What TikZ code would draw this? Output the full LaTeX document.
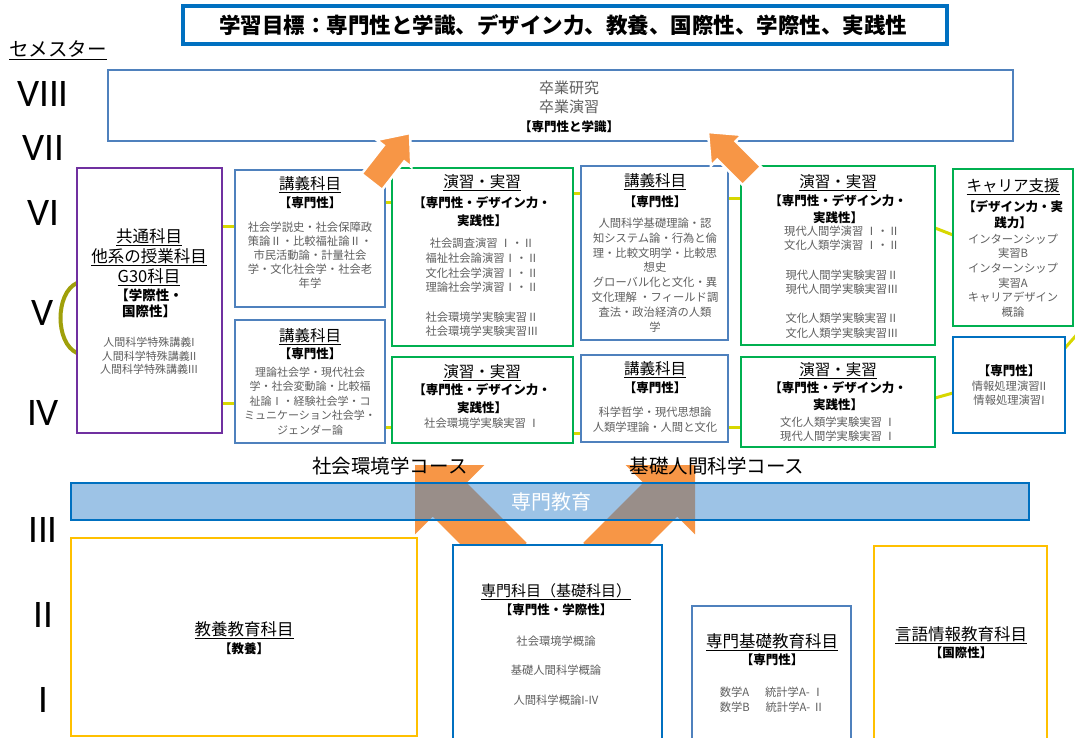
\documentclass[tikz,border=0pt]{standalone}
\usepackage{fontspec}
\setmainfont{Noto Sans CJK JP}
\newfontfamily\romfont{Carlito}
\usetikzlibrary{fit}
\definecolor{tblue}{RGB}{0,112,192}
\definecolor{sblue}{RGB}{79,129,189}
\definecolor{mgreen}{RGB}{0,176,80}
\definecolor{mpurple}{RGB}{112,48,160}
\definecolor{myellow}{RGB}{255,192,0}
\definecolor{morange}{RGB}{247,150,70}
\definecolor{bodygray}{RGB}{95,95,95}
\definecolor{linky}{RGB}{215,215,0}
\definecolor{olivec}{RGB}{160,160,10}
\definecolor{barfill}{RGB}{60,135,205}
\tikzset{
  frame/.style={draw=#1, line width=2.6pt, fill=white, inner sep=0pt},
  ttl/.style={font=\fontsize{15.5}{18}\selectfont, inner sep=0pt},
  bigttl/.style={font=\fontsize{16.5}{20}\selectfont, inner sep=0pt, align=center},
  brk/.style={font=\fontsize{12.5}{17.5}\selectfont\bfseries, inner sep=0pt, align=center},
  body/.style={font=\fontsize{11.3}{14.6}\selectfont, text=bodygray, inner sep=0pt, align=center},
  rom/.style={font=\romfont\fontsize{39}{40}\selectfont, inner sep=0pt},
  link/.style={draw=linky, line width=3pt},
  course/.style={font=\fontsize{19.5}{22}\selectfont, inner sep=0pt},
}
\newcommand\blockarrow[8]{%
  \begin{scope}[shift={(#1,#2)}, rotate=#3]
    \filldraw[#8] (0,0) -- (#5,#6) -- (#5,#7) -- (#4,#7) -- (#4,-#7) -- (#5,-#7) -- (#5,-#6) -- cycle;
  \end{scope}}
\begin{document}
\begin{tikzpicture}[x=1pt, y=-1pt]
\useasboundingbox (0,0) rectangle (1075,738);

% ---- goal title
\node[frame=tblue, line width=3.5pt, fit={(183,6) (947,44)}] (goal) {};
\node[font=\fontsize{21.5}{24}\selectfont\bfseries, inner sep=0pt] (goaltxt) at (563,25) {学習目標：専門性と学識、デザイン力、教養、国際性、学際性、実践性};

% ---- semester column
\node[font=\fontsize{19.5}{22}\selectfont, inner sep=0pt] (sem) at (58,50) {\underline{セメスター}};
\node[rom] (s8) at (43,94) {VIII};
\node[rom] (s7) at (43,148) {VII};
\node[rom] (s6) at (43,213) {VI};
\node[rom] (s5) at (43,313) {V};
\node[rom] (s4) at (43,413) {IV};
\node[rom] (s3) at (43,530) {III};
\node[rom] (s2) at (43,615) {II};
\node[rom] (s1) at (43,700) {I};

% ---- bottom arrows (behind the bar)
\blockarrow{415}{465}{315}{134}{49}{49}{24}{fill=morange, draw=none}
\blockarrow{695}{465}{225}{134}{49}{49}{24}{fill=morange, draw=none}

% ---- specialised education bar
\node[draw=tblue, line width=2.6pt, fill=barfill, fill opacity=0.5, inner sep=0pt, fit={(71,483) (1029,520)}] (bar) {};
\node[font=\fontsize{20}{24}\selectfont, text=white, inner sep=0pt] (bartxt) at (551,502) {専門教育};

% ---- bottom boxes
\node[frame=myellow, fit={(71,538) (417,736)}] (kyoyo) {};
\node[bigttl] (kyoyot) at (244,630) {\underline{教養教育科目}};
\node[brk] (kyoyob) at (244,649) {【教養】};

\node[frame=tblue, fit={(453,545) (662,752)}] (senmon) {};
\node[font=\fontsize{15}{18}\selectfont, inner sep=0pt] (senmont) at (556,592) {\underline{専門科目（基礎科目）}};
\node[brk] (senmonb) at (556,610) {【専門性・学際性】};
\node[body] (senmon1) at (556,641) {社会環境学概論};
\node[body] (senmon2) at (556,670) {基礎人間科学概論};
\node[body] (senmon3) at (556,700) {人間科学概論I-IV};

\node[frame=sblue, fit={(692,606) (851,752)}] (kiso) {};
\node[bigttl] (kisot) at (772,642) {\underline{専門基礎教育科目}};
\node[brk] (kisob) at (772,660) {【専門性】};
\node[body, align=left] (kisobody) at (772,699.5) {数学A\hspace{1.4em}統計学A- Ⅰ\\数学B\hspace{1.4em}統計学A- Ⅱ};

\node[frame=myellow, fit={(874,546) (1047,752)}] (gengo) {};
\node[bigttl] (gengot) at (961,635) {\underline{言語情報教育科目}};
\node[brk] (gengob) at (961,653) {【国際性】};

% ---- course labels
\node[course] (c1) at (390,466) {社会環境学コース};
\node[course] (c2) at (717,466) {基礎人間科学コース};

% ---- graduation box
\node[frame=sblue, fit={(108,70) (1013,141)}] (grad) {};

\path (77,168) coordinate (kyoA) (222,433) coordinate (kyoB);
\path (235,170) coordinate (lk1A) (385,307) coordinate (lk1B);
\path (235,320) coordinate (lk2A) (385,443) coordinate (lk2B);
\path (392,168) coordinate (g1A) (573,346) coordinate (g1B);
\path (392,357) coordinate (g2A) (573,443) coordinate (g2B);
\path (581,166) coordinate (lk3A) (728,340) coordinate (lk3B);
\path (581,355) coordinate (lk4A) (728,442) coordinate (lk4B);
\path (741,166) coordinate (g3A) (935,345) coordinate (g3B);
\path (741,357) coordinate (g4A) (935,447) coordinate (g4B);
\path (953,169) coordinate (carA) (1073,326) coordinate (carB);
\path (953,337) coordinate (senA) (1065,433) coordinate (senB);

% connectors (yellow ring)
\draw[link] (kyoB |- 0,226) -- (lk1A |- 0,226);
\draw[link] (lk1B |- 0,202) -- (g1A |- 0,202);
\draw[link] (g1B |- 0,193) -- (lk3A |- 0,193);
\draw[link] (lk3B |- 0,198) -- (g3A |- 0,198);
\draw[link] (g3B |- 0,228) -- (carA |- 0,235);
\draw[link] (kyoB |- 0,403) -- (lk2A |- 0,403);
\draw[link] (lk2B |- 0,427) -- (g2A |- 0,427);
\draw[link] (g2B |- 0,433) -- (lk4A |- 0,433);
\draw[link] (lk4B |- 0,427) -- (g4A |- 0,427);
\draw[link] (g4B |- 0,398) -- (senA |- 0,393);
\draw[link, draw=olivec, line width=4pt] (kyoA |- 0,283) .. controls (55,293) and (55,343) .. (kyoA |- 0,353);
\draw[link] (senB |- 0,348) -- (1080,331);

% boxes
\node[frame=mpurple, fit=(kyoA) (kyoB)] (kyo) {};
\node[frame=sblue, fit=(lk1A) (lk1B)] (lk1) {};
\node[frame=sblue, fit=(lk2A) (lk2B)] (lk2) {};
\node[frame=mgreen, fit=(g1A) (g1B)] (g1) {};
\node[frame=mgreen, fit=(g2A) (g2B)] (g2) {};
\node[frame=sblue, fit=(lk3A) (lk3B)] (lk3) {};
\node[frame=sblue, fit=(lk4A) (lk4B)] (lk4) {};
\node[frame=mgreen, fit=(g3A) (g3B)] (g3) {};
\node[frame=mgreen, fit=(g4A) (g4B)] (g4) {};
\node[frame=mgreen, fit=(carA) (carB)] (car) {};
\node[frame=tblue, fit=(senA) (senB)] (sen) {};

% graduation texts
\node[font=\fontsize{15}{19}\selectfont, text=bodygray, inner sep=0pt, align=center] (gradtxt) at (569,97.5) {卒業研究\\卒業演習};
\node[brk, font=\fontsize{12.5}{14}\selectfont\bfseries] (gradb) at (569,127) {【専門性と学識】};

% purple box texts
\node[bigttl] (kyot) at (149,257) {\underline{共通科目}\\\underline{他系の授業科目}\\\underline{G30科目}};
\node[brk, font=\fontsize{13.5}{16}\selectfont\bfseries] (kyob) at (149,303) {【学際性・\\国際性】};
\node[body, font=\fontsize{11}{13.5}\selectfont] (kyobody) at (149,356) {人間科学特殊講義I\\人間科学特殊講義II\\人間科学特殊講義III};

% lecture box 1
\node[ttl] (lk1t) at (310,185) {\underline{講義科目}};
\node[brk] (lk1b) at (310,203) {【専門性】};
\node[body, font=\fontsize{11.3}{14.1}\selectfont] (lk1body) at (310,255) {社会学説史・社会保障政\\策論Ⅱ・比較福祉論Ⅱ・\\市民活動論・計量社会\\学・文化社会学・社会老\\年学};

% lecture box 2
\node[ttl] (lk2t) at (310,337) {\underline{講義科目}};
\node[brk] (lk2b) at (310,354) {【専門性】};
\node[body, font=\fontsize{11}{14.5}\selectfont] (lk2body) at (310,401) {理論社会学・現代社会\\学・社会変動論・比較福\\祉論Ⅰ・経験社会学・コ\\ミュニケーション社会学・\\ジェンダー論};

% practice box 1
\node[ttl] (g1t) at (482,183) {\underline{演習・実習}};
\node[brk] (g1b) at (482,211.5) {【専門性・デザイン力・\\実践性】};
\node[body, font=\fontsize{11.3}{14.7}\selectfont] (g1body) at (482,287.5) {社会調査演習 Ⅰ・Ⅱ\\福祉社会論演習Ⅰ・Ⅱ\\文化社会学演習Ⅰ・Ⅱ\\理論社会学演習Ⅰ・Ⅱ\\[14.7pt]社会環境学実験実習Ⅱ\\社会環境学実験実習Ⅲ};

% practice box 2
\node[ttl] (g2t) at (482,373) {\underline{演習・実習}};
\node[brk] (g2b) at (482,398.5) {【専門性・デザイン力・\\実践性】};
\node[body] (g2body) at (482,423) {社会環境学実験実習 Ⅰ};

% lecture box 3
\node[ttl] (lk3t) at (655,182) {\underline{講義科目}};
\node[brk] (lk3b) at (655,202) {【専門性】};
\node[body, font=\fontsize{11.3}{14.85}\selectfont] (lk3body) at (655,275) {人間科学基礎理論・認\\知システム論・行為と倫\\理・比較文明学・比較思\\想史\\グローバル化と文化・異\\文化理解 ・フィールド調\\査法・政治経済の人類\\学};

% lecture box 4
\node[ttl] (lk4t) at (655,370) {\underline{講義科目}};
\node[brk] (lk4b) at (655,388) {【専門性】};
\node[body, font=\fontsize{11.3}{15}\selectfont] (lk4body) at (655,419.5) {科学哲学・現代思想論\\人類学理論・人間と文化};

% practice box 3
\node[ttl] (g3t) at (838,183) {\underline{演習・実習}};
\node[brk, font=\fontsize{12.5}{17}\selectfont\bfseries] (g3b) at (838,209.5) {【専門性・デザイン力・\\実践性】};
\node[body, font=\fontsize{11.3}{14.6}\selectfont] (g3body) at (842,282) {現代人間学演習 Ⅰ・Ⅱ\\文化人類学演習 Ⅰ・Ⅱ\\[14.6pt]現代人間学実験実習Ⅱ\\現代人間学実験実習Ⅲ\\[14.6pt]文化人類学実験実習Ⅱ\\文化人類学実験実習Ⅲ};

% practice box 4
\node[ttl] (g4t) at (838,371) {\underline{演習・実習}};
\node[brk, font=\fontsize{12.5}{17}\selectfont\bfseries] (g4b) at (838,396.5) {【専門性・デザイン力・\\実践性】};
\node[body, font=\fontsize{11.3}{14}\selectfont] (g4body) at (838,429) {文化人類学実験実習 Ⅰ\\現代人間学実験実習 Ⅰ};

% career box
\node[ttl] (cart) at (1013,187) {\underline{キャリア支援}};
\node[brk, font=\fontsize{12.5}{16}\selectfont\bfseries] (carb) at (1013,215) {【デザイン力・実\\践力】};
\node[body, font=\fontsize{11.3}{14.6}\selectfont] (carbody) at (1013,275.5) {インターンシップ\\実習B\\インターンシップ\\実習A\\キャリアデザイン\\概論};

% info box
\node[brk] (senb) at (1009,371) {【専門性】};
\node[body, font=\fontsize{11.3}{14}\selectfont] (senbody) at (1009,393) {情報処理演習II\\情報処理演習I};

% ---- top arrows
\blockarrow{410}{133}{232}{62}{26}{22}{13}{fill=morange, draw=white, line width=2.5pt}
\blockarrow{708}{132}{315}{62}{26}{22}{13}{fill=morange, draw=white, line width=2.5pt}
\end{tikzpicture}
\end{document}
